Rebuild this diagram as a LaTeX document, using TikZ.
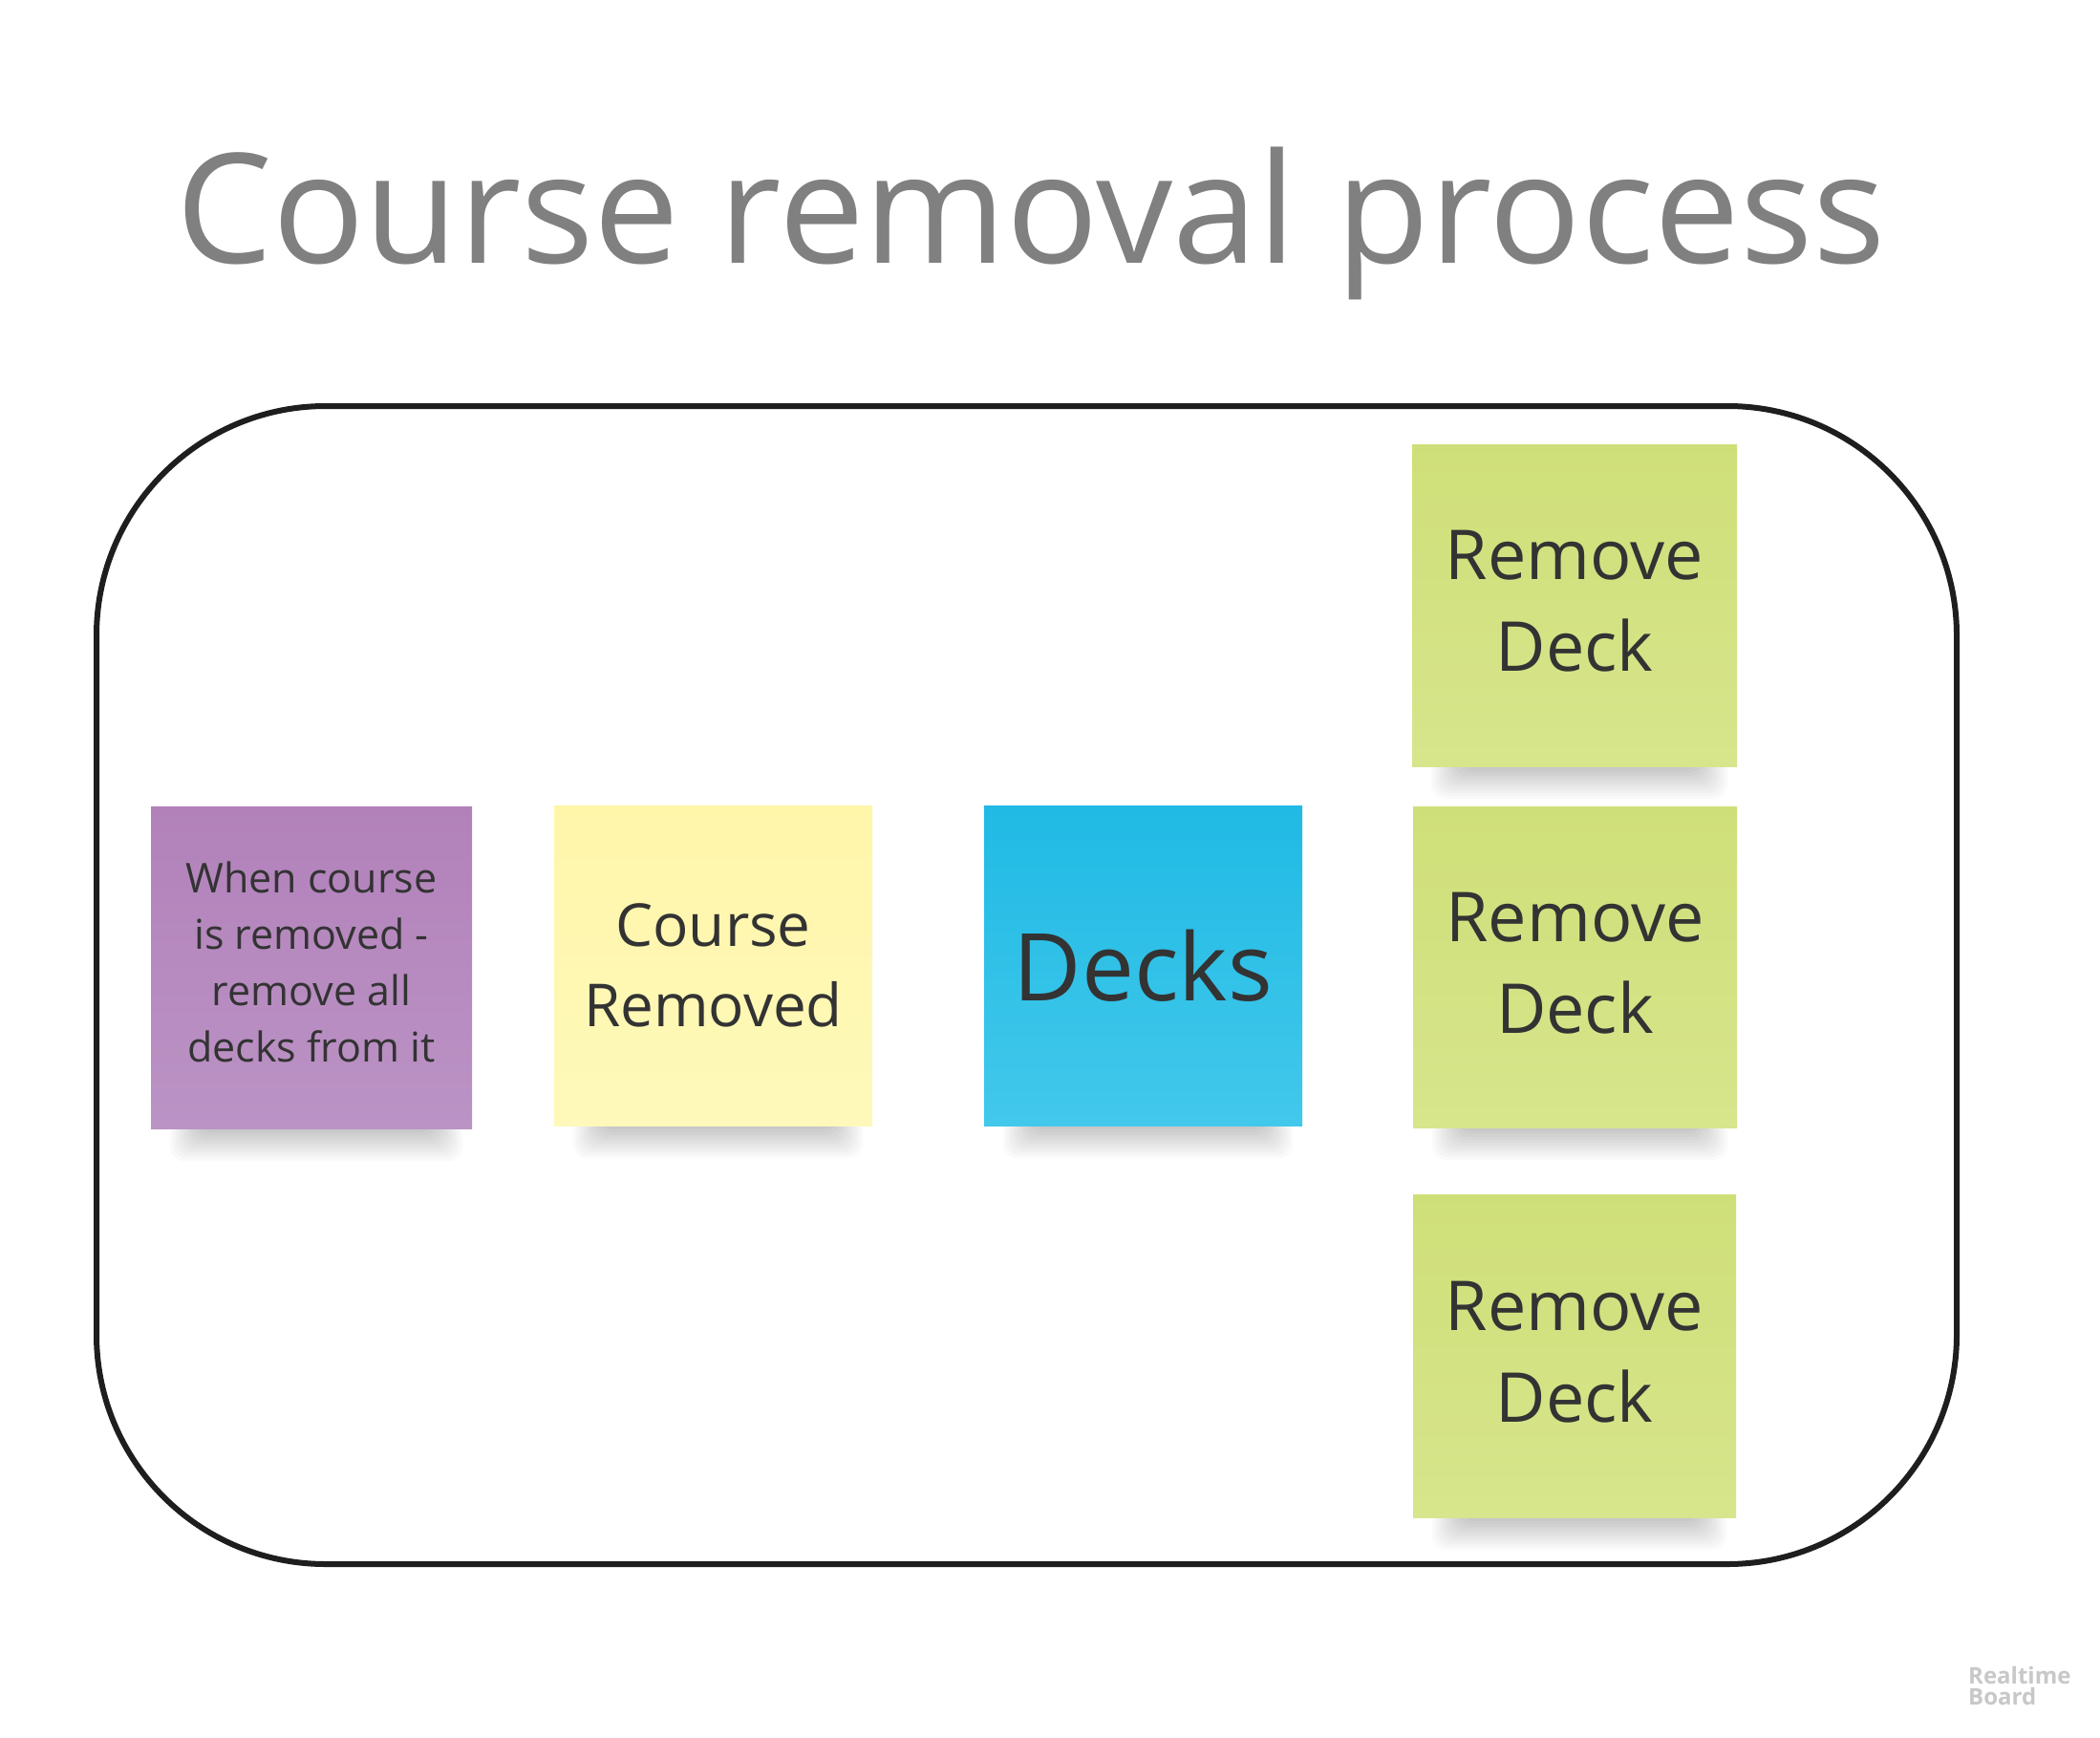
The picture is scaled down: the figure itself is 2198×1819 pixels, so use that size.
\documentclass[tikz,border=0pt]{standalone}
\usepackage{fontspec}
\setmainfont{Open Sans}
\definecolor{titlegray}{HTML}{808080}
\definecolor{ink}{HTML}{333333}
\definecolor{frame}{HTML}{1E1E1E}
\definecolor{logogray}{HTML}{C8C8C8}
\definecolor{purpleT}{HTML}{B281BA}
\definecolor{purpleB}{HTML}{BB93C5}
\definecolor{yellowT}{HTML}{FFF6AA}
\definecolor{yellowB}{HTML}{FEF9BA}
\definecolor{blueT}{HTML}{20BAE4}
\definecolor{blueB}{HTML}{42C8EB}
\definecolor{greenT}{HTML}{CFDF78}
\definecolor{greenB}{HTML}{D7E58C}
\newcommand\noteshadow[3]{%
  \foreach \k in {0,...,11}{%
    \fill[black,opacity=0.02,rounded corners=14pt]
      ({#1+20+3*\k},{#3-10}) rectangle ({#2-10-3*\k},{#3+34-3*\k});
  }%
}
\begin{document}
\begin{tikzpicture}[x=1pt,y=-1pt,
  notebox/.style={inner sep=0pt, outer sep=0pt, align=center, text=ink},
  smalltext/.style={font=\fontsize{43}{59}\selectfont},
  midtext/.style={font=\fontsize{62}{84}\selectfont},
  bigtext/.style={font=\fontsize{72}{96}\selectfont},
  hugetext/.style={font=\fontsize{98}{120}\selectfont}]
\useasboundingbox[fill=white] (0,0) rectangle (2198,1819);

% title
\node[anchor=base, text=titlegray, font=\fontsize{160}{190}\selectfont, inner sep=0pt] (title) at (1079,276) {Course removal process};

% frame
\draw[frame, line width=6pt, rounded corners=240pt] (101,425) rectangle (2048,1637);

% shadows
\noteshadow{158}{494}{1181}
\noteshadow{580}{913}{1178}
\noteshadow{1030}{1363}{1178}
\noteshadow{1478}{1818}{802}
\noteshadow{1479}{1818}{1180}
\noteshadow{1479}{1817}{1588}

% notes
\node[notebox, top color=purpleT, bottom color=purpleB, minimum width=336pt, minimum height=337pt] (purple) at (326,1012.5) {};
\node[notebox, smalltext] (purpletext) at (326,1007) {When course\\is removed -\\remove all\\decks from it};
\node[notebox, midtext, top color=yellowT, bottom color=yellowB, minimum width=333pt, minimum height=335pt] (yellow) at (746.5,1010.5) {Course\\Removed};
\node[notebox, hugetext, top color=blueT, bottom color=blueB, minimum width=333pt, minimum height=335pt] (blue) at (1196.5,1010.5) {Decks};
\node[notebox, top color=greenT, bottom color=greenB, minimum width=340pt, minimum height=337pt] (green1) at (1648,633.5) {};
\node[notebox, bigtext] (green1text) at (1648,629) {Remove\\Deck};
\node[notebox, top color=greenT, bottom color=greenB, minimum width=339pt, minimum height=336pt] (green2) at (1648.5,1012) {};
\node[notebox, bigtext] (green2text) at (1648.5,1008) {Remove\\Deck};
\node[notebox, top color=greenT, bottom color=greenB, minimum width=338pt, minimum height=338pt] (green3) at (1648,1419) {};
\node[notebox, bigtext] (green3text) at (1648,1415) {Remove\\Deck};

% logo
\node[anchor=base west, align=left, inner sep=0pt, text=logogray, font=\bfseries\fontsize{24}{22}\selectfont] (logo) at (2060,1784) {Realtime\\Board};
\end{tikzpicture}
\end{document}
